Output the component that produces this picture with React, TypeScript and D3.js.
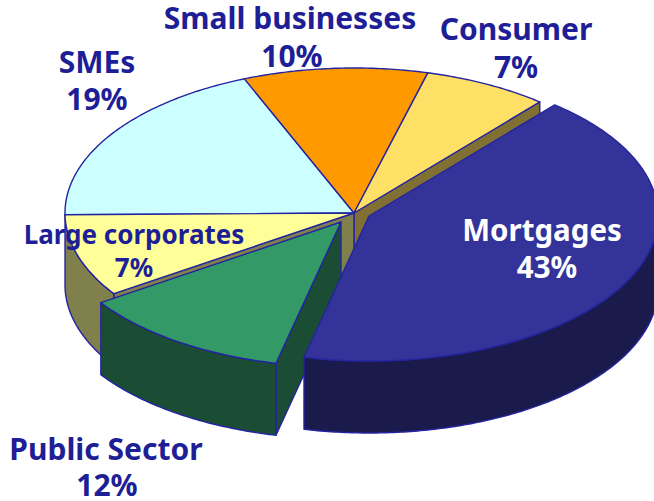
import React from "react";
import * as d3 from "d3";

const categories = ["Mortgages", "Public Sector", "Large corporates", "SMEs", "Small businesses", "Consumer"];
const labelValues = ["43%", "12%", "7%", "19%", "10%", "7%"];
// Slice sizes as drawn in the picture (the drawn angles differ slightly from the printed labels)
const drawnShares = [42.5, 12, 9.2, 19, 10.3, 7];
const topColors = ["#333399", "#339966", "#ffff99", "#ccffff", "#ff9900", "#ffe066"];
const sideColors = ["#1a1a4d", "#1a4d33", "#80804d", "#668080", "#804d00", "#807033"];
const explodeX = [15, -13, 0, 0, 0, 0];
const explodeY = [3, 9, 0, 0, 0, 0];
const labelX = [542, 106, 134, 97, 290, 516];
const labelY = [241, 460, 244, 73, 29, 40];
const valueY = [278, 496, 277, 110, 67, 78];
const valueX = [547, 107, 134, 97, 292, 516];
const fontSizes = [29.5, 30, 26, 30, 30, 30];
const textColors = ["#ffffff", "#1e1e96", "#1e1e96", "#1e1e96", "#1e1e96", "#1e1e96"];

const START_DEG = 40;
const STROKE = "#2424a0";
const FONT = "'Noto Sans', Tahoma, sans-serif";

const cx = 354, cy = 213, rx = 289, ry = 145, depth = 72;
const sx = d3.scaleLinear().domain([-1, 1]).range([cx - rx, cx + rx]);
const sy = d3.scaleLinear().domain([-1, 1]).range([cy - ry, cy + ry]);

const arcs = d3.pie<number>().sort(null)
  .startAngle((START_DEG * Math.PI) / 180)
  .endAngle((START_DEG * Math.PI) / 180 + 2 * Math.PI)(drawnShares);

type P = [number, number];
const rim = (a: number, i: number, dz = 0): P => [
  sx(Math.sin(a)) + explodeX[i],
  sy(-Math.cos(a)) + explodeY[i] + dz,
];
const apex = (i: number, dz = 0): P => [sx(0) + explodeX[i], sy(0) + explodeY[i] + dz];
const samples = (a0: number, a1: number) => {
  const n = Math.max(2, Math.ceil(Math.abs(a1 - a0) / 0.012));
  return d3.range(n + 1).map((k) => a0 + ((a1 - a0) * k) / n);
};
const line = d3.line<P>();
const closed = (pts: P[]) => (line(pts) ?? "") + "Z";

const topPath = (i: number) =>
  closed([apex(i), ...samples(arcs[i].startAngle, arcs[i].endAngle).map((a) => rim(a, i))]);
const facePath = (a: number, i: number) =>
  closed([apex(i), rim(a, i), rim(a, i, depth), apex(i, depth)]);
const outerPath = (i: number) => {
  // the outer wall is visible on the front half of the ellipse only
  const PI = Math.PI;
  const lo = Math.max(arcs[i].startAngle, PI / 2);
  const hi = Math.min(arcs[i].endAngle, (3 * PI) / 2);
  if (hi <= lo) return null;
  const s = samples(lo, hi);
  return closed([...s.map((a) => rim(a, i)), ...[...s].reverse().map((a) => rim(a, i, depth))]);
};

const idx = { mortgages: 0, publicSector: 1, large: 2, sme: 3, small: 4, consumer: 5 };
const common = { stroke: STROKE, strokeWidth: 1.4, strokeLinejoin: "round" as const };

export default function App() {
  const back = [idx.sme, idx.small, idx.consumer, idx.large];
  return (
    <svg
      width={654}
      height={501}
      style={{ position: "fixed", left: 0, top: 0, background: "#fff" }}
      fontFamily={FONT}
    >
      {/* walls of the unexploded part */}
      <path d={facePath(arcs[idx.consumer].endAngle - 2 * Math.PI, idx.consumer)} fill={sideColors[idx.consumer]} {...common} />
      <path d={facePath(arcs[idx.large].startAngle, idx.large)} fill={sideColors[idx.large]} {...common} />
      <path d={outerPath(idx.large) ?? ""} fill={sideColors[idx.large]} {...common} />
      {back.map((i) => (
        <path key={categories[i]} d={topPath(i)} fill={topColors[i]} {...common} />
      ))}
      {/* public sector */}
      <path d={facePath(arcs[idx.publicSector].startAngle, idx.publicSector)} fill={sideColors[idx.publicSector]} {...common} />
      <path d={outerPath(idx.publicSector) ?? ""} fill={sideColors[idx.publicSector]} {...common} />
      <path d={topPath(idx.publicSector)} fill={topColors[idx.publicSector]} {...common} />
      {/* mortgages */}
      <path d={outerPath(idx.mortgages) ?? ""} fill={sideColors[idx.mortgages]} {...common} />
      <path d={topPath(idx.mortgages)} fill={topColors[idx.mortgages]} {...common} />
      {categories.map((c, i) => (
        <g key={c} textAnchor="middle" fontWeight={700} fontSize={fontSizes[i]} fill={textColors[i]}>
          <text x={labelX[i]} y={labelY[i]}>{c}</text>
          <text x={valueX[i]} y={valueY[i]}>{labelValues[i]}</text>
        </g>
      ))}
    </svg>
  );
}
